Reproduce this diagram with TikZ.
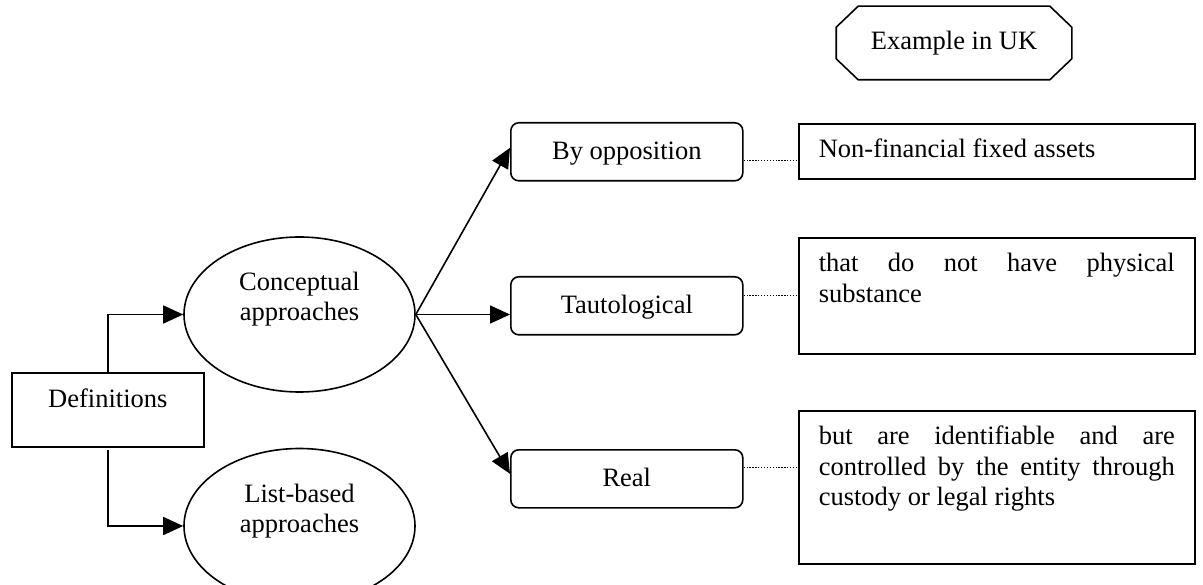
\documentclass[tikz,border=0pt]{standalone}
\usepackage{fontspec}
\setmainfont{Liberation Serif}
\usetikzlibrary{arrows.meta, shapes.geometric}
\hyphenpenalty=10000
\exhyphenpenalty=10000
\tolerance=10000

\begin{document}
\begin{tikzpicture}[x=1pt, y=-1pt, line width=1.6pt,
    font=\fontsize{26.5}{30.5}\selectfont,
    every node/.style={inner sep=0pt},
    defbox/.style={draw, anchor=north west, minimum width=192pt,
                   text height=35pt, text depth=39pt},
    approach/.style={draw, ellipse, minimum width=231pt, minimum height=155pt,
                     text width=140pt, align=center, text height=20pt, text depth=68pt},
    kind/.style={draw, rounded corners=8pt, anchor=north west, minimum width=232pt,
                 text height=37pt, text depth=21pt},
    ukhead/.style={minimum width=234pt, minimum height=72pt},
    ukbox/.style={draw, anchor=north west, text width=356pt, inner xsep=20pt,
                  align=justify, text height=34pt},
    arr/.style={-{Triangle[length=20pt, width=18pt]}},
    link/.style={line width=1.3pt, dash pattern=on 1.3pt off 1.6pt}]
  \clip (0,0) rectangle (1203,585);

  % definitions and the two approaches
  \node[defbox] (defs) at (11,372) {Definitions};
  \node[approach] (concept) at (299.5,314.5) {Conceptual\\approaches};
  \node[approach] (list) at (299.5,526) {List-based\\approaches};

  % kinds of conceptual approach
  \node[kind] (opp) at (510,122) {By opposition};
  \node[kind] (taut) at (510,276) {Tautological};
  \node[kind] (real) at (510,449) {Real};

  % UK example
  \node[ukhead] (uk) at (954,43) {Example in UK};
  \draw ([xshift=22pt]uk.north west) -- ([xshift=-22pt]uk.north east)
    -- ([yshift=-21pt]uk.north east) -- ([yshift=21pt]uk.south east)
    -- ([xshift=-22pt]uk.south east) -- ([xshift=22pt]uk.south west)
    -- ([yshift=21pt]uk.south west) -- ([yshift=-21pt]uk.north west) -- cycle;
  \node[ukbox, text depth=21pt] (nfa) at (798,123) {Non-financial fixed assets};
  \node[ukbox, text depth=82pt] (phys) at (798,237) {that do not have physical substance};
  \node[ukbox, text depth=119pt] (ident) at (798,410)
    {but are identifiable and are controlled by the entity through custody or legal rights};

  \draw[arr] (defs.north) |- (concept.west);
  \draw[arr] ([yshift=-2pt]defs.south) |- (list.west);
  \draw[arr] (concept.east) -- ([yshift=4pt]opp.west);
  \draw[arr] (concept.east) -- (concept.east -| taut.west);
  \draw[arr] (concept.east) -- ([yshift=5pt]real.west);

  \draw[link] ([yshift=-9pt]opp.east) coordinate (d1) -- (d1 -| nfa.west);
  \draw[link] ([yshift=10.5pt]taut.east) coordinate (d2) -- (d2 -| phys.west);
  \draw[link] ([yshift=11pt]real.east) coordinate (d3) -- (d3 -| ident.west);
\end{tikzpicture}
\end{document}
